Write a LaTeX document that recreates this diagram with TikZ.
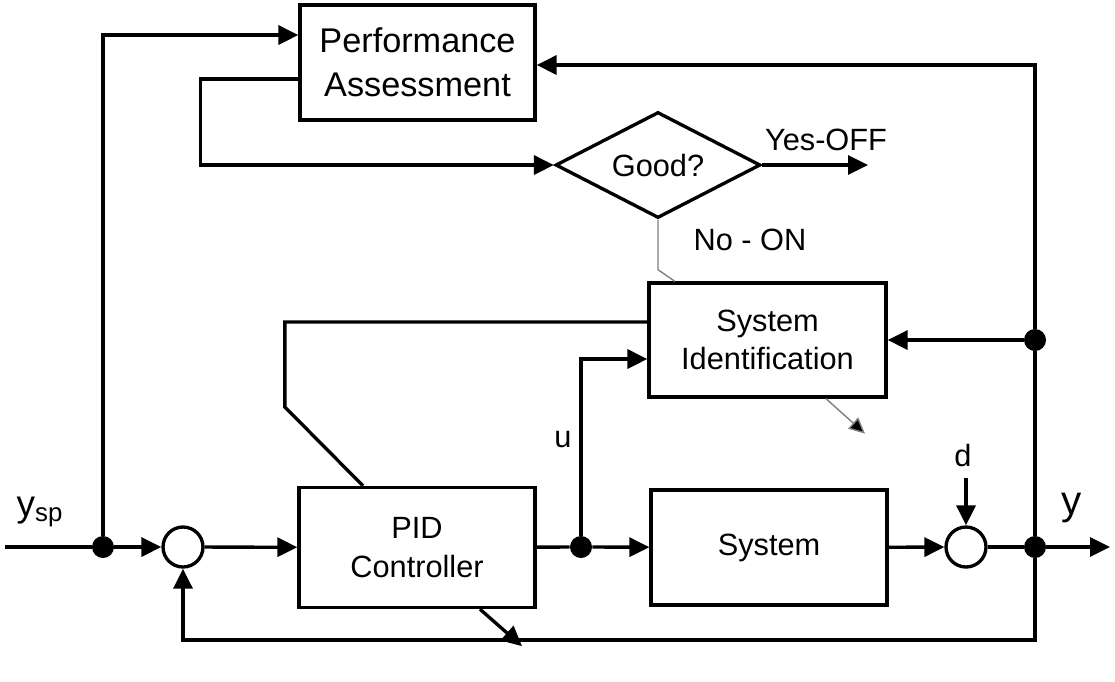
\documentclass[tikz,border=0pt]{standalone}
\usepackage{fontspec}
\setmainfont{Liberation Sans}
\usetikzlibrary{arrows.meta,shapes.geometric}

\tikzset{
  blk/.style={draw,line width=1.9pt,minimum width=4.72cm,minimum height=2.3cm,
    align=center,font=\fontsize{17.5}{22}\selectfont},
  sumpt/.style={draw,circle,line width=1.9pt,minimum size=0.8cm,inner sep=0pt},
  dotpt/.style={circle,fill,minimum size=0.44cm,inner sep=0pt},
  lbl/.style={font=\fontsize{17.5}{22}\selectfont},
  wire/.style={line width=1.9pt},
  sig/.style={line width=1.9pt,-{Triangle[length=0.4cm,width=0.38cm]}},
  grayline/.style={line width=0.8pt,gray}
}

\begin{document}
\begin{tikzpicture}[x=0.02cm,y=-0.02cm]
   \useasboundingbox (0,0) rectangle (1115,681);
   % blocks
   \node[blk,minimum width=4.7cm,font=\fontsize{19.5}{25}\selectfont] (perf) at (417.5,62.5) {Performance\\Assessment};
   \node[diamond,draw,line width=1.9pt,aspect=1.93,minimum width=4.1cm,minimum height=2.12cm,inner sep=0pt,lbl] (good) at (658,165) {Good?};
   \node[blk,minimum width=4.74cm,minimum height=2.28cm] (sysid) at (767.5,340) {System\\Identification};
   \node[blk,minimum height=2.4cm] (pid) at (417,547.5) {PID\\Controller};
   \node[blk] (plant) at (769,547.5) {System};
   \node[sumpt] (sum1) at (183,547) {};
   \node[sumpt] (sum2) at (966,547) {};
   % branch points
   \node[dotpt] (dsp) at (103,547) {};
   \node[dotpt] (du) at (581,547) {};
   \node[dotpt] (dy) at (1035,547) {};
   \node[dotpt] (dfb) at (1035,340) {};
   \coordinate (in) at (5,547);
   \coordinate (out) at (1110,547);
   \coordinate (dtop) at (966,478);
   \coordinate (yes) at (868,165);
   \coordinate (fb) at (1035,640);
   % labels
   \node[font=\fontsize{21}{24}\selectfont] (lysp) at (40,512) {y\textsubscript{sp}};
   \node[font=\fontsize{23}{26}\selectfont] (ly) at (1072,508) {y};
   \node[lbl] (lu) at (563,440) {u};
   \node[lbl] (ld) at (963,455) {d};
   \node[lbl] (lyes) at (826,140) {Yes-OFF};
   \node[lbl] (lno) at (750,240) {No - ON};
   % main loop
   \draw[wire] (in) -- (dsp);
   \draw[sig] (dsp) -- (sum1);
   \draw[sig] (sum1) -- (pid);
   \draw[wire] (pid) -- (du);
   \draw[sig] (du) -- (plant);
   \draw[sig] (plant) -- (sum2);
   \draw[wire] (sum2) -- (dy);
   \draw[sig] (dy) -- (out);
   \draw[sig] (dtop) -- (sum2);
   \draw[sig] (dy) -- (fb) -| (sum1);
   % supervision
   \draw[wire] (dy) -- (dfb);
   \draw[sig] (dfb) -- (sysid);
   \draw[sig] (dfb) |- ([yshift=-0.05cm]perf.east);
   \draw[sig] (dsp) |- ([yshift=0.55cm]perf.west);
   \draw[sig] ([yshift=-0.33cm]perf.west) -- ++(-98,0) |- (good);
   \draw[sig] (good) -- (yes);
   \draw[grayline] (good.south) -- ++(0,50) -- ([xshift=0.55cm]sysid.north west);
   \draw[sig] (du) |- ([yshift=-0.38cm]sysid.west);
   \draw[wire] ([yshift=0.36cm]sysid.west) -- ++(-362.5,0) -- ++(0,85) -- ([xshift=-1.08cm]pid.north);
   \draw[sig] ([xshift=1.26cm]pid.south) -- ++(42,37);
   \draw[grayline,-{Triangle[length=0.32cm,width=0.3cm,fill=black]}] ([xshift=1.17cm]sysid.south) -- ++(39,35);
\end{tikzpicture}
\end{document}
